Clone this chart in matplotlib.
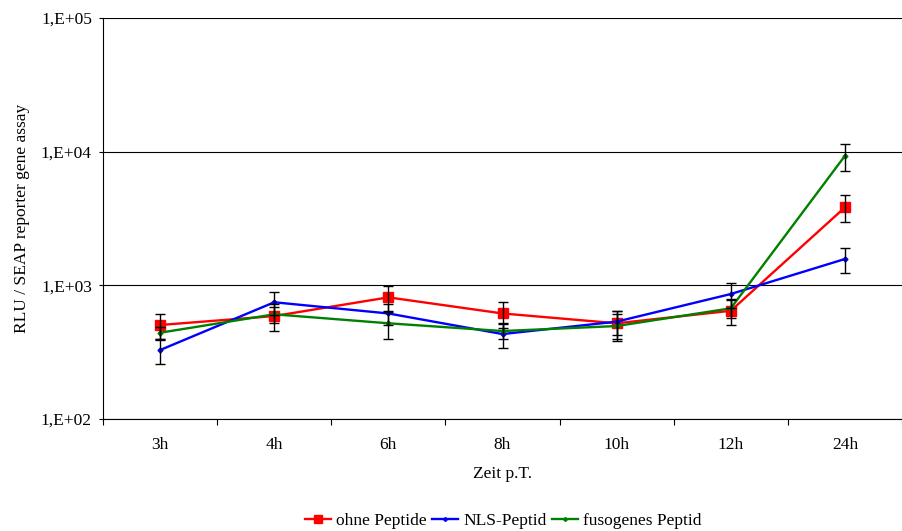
import numpy as np
import matplotlib
matplotlib.use('Agg')
import matplotlib.pyplot as plt
from matplotlib.ticker import FixedLocator, NullLocator, FuncFormatter

plt.rcParams['font.family'] = ['Liberation Serif', 'DejaVu Serif']

# Daten
zeiten = ['3h', '4h', '6h', '8h', '10h', '12h', '24h']
ohne_peptide = [505, 589, 813, 616, 520, 645, 3830]
ohne_peptide_err = [110, 130, 180, 140, 120, 140, 870]
nls_peptid = [328, 747, 616, 432, 535, 861, 1574]
nls_peptid_err = [70, 150, 110, 90, 110, 180, 330]
fusogenes_peptid = [442, 607, 520, 455, 496, 673, 9310]
fusogenes_peptid_err = [50, 80, 120, 60, 110, 100, 2200]

x = np.arange(len(zeiten))
fs = 12.5

fig = plt.figure(figsize=(9.02, 5.31), dpi=100)
ax = fig.add_axes([103 / 902, 1 - 419 / 531, (902 - 103) / 902, (419 - 18) / 531])

ax.plot(x, ohne_peptide, color='red', lw=1.7, marker='s', ms=6.5, label='ohne Peptide', zorder=2)
ax.plot(x, nls_peptid, color='blue', lw=1.7, marker='D', ms=2.5, label='NLS-Peptid', zorder=2)
ax.plot(x, fusogenes_peptid, color='green', lw=1.7, marker='D', ms=2.5, label='fusogenes Peptid', zorder=2)

for werte, fehler in [(ohne_peptide, ohne_peptide_err), (nls_peptid, nls_peptid_err),
                      (fusogenes_peptid, fusogenes_peptid_err)]:
    ax.errorbar(x, werte, yerr=fehler, fmt='none', ecolor='black', elinewidth=1,
                capsize=3.5, capthick=1, zorder=3)

ax.set_yscale('log')
ax.set_ylim(100, 100000)
ax.set_xlim(-0.5, len(zeiten) - 0.5)
ax.yaxis.set_major_locator(FixedLocator([1e2, 1e3, 1e4, 1e5]))
ax.yaxis.set_minor_locator(NullLocator())
ax.yaxis.set_major_formatter(FuncFormatter(lambda v, p: '1,E+%02d' % int(round(np.log10(v)))))
ax.grid(axis='y', color='black', lw=0.8)

ax.set_xticks(x)
ax.set_xticklabels(zeiten)
ax.set_xticks(np.arange(len(zeiten) + 1) - 0.5, minor=True)
ax.tick_params(axis='x', which='major', length=0, pad=13, labelsize=fs)
ax.tick_params(axis='x', which='minor', length=4, width=0.8, direction='out')
ax.tick_params(axis='y', length=3, width=0.8, labelsize=fs, pad=5)

for s in ['top', 'right']:
    ax.spines[s].set_visible(False)
ax.spines['left'].set_linewidth(0.8)
ax.spines['bottom'].set_linewidth(0.8)

ax.set_xlabel('Zeit p.T.', fontsize=fs, labelpad=9)
ax.set_ylabel('RLU / SEAP reporter gene assay', fontsize=fs, labelpad=8)

fig.legend(*ax.get_legend_handles_labels(), loc='center', bbox_to_anchor=(503 / 902, 1 - 521 / 531),
           ncol=3, frameon=False, fontsize=fs, handlelength=1.5, handletextpad=0.3,
           columnspacing=0.3, borderaxespad=0, borderpad=0, markerscale=0.8)

fig.savefig('out.png', dpi=100)
